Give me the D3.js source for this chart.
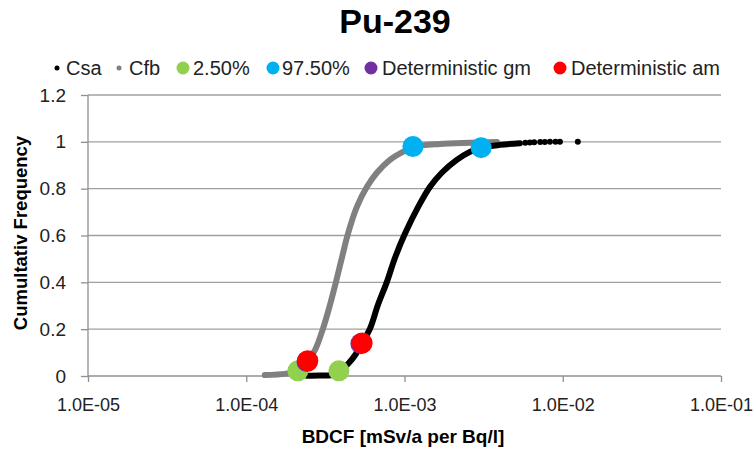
<!DOCTYPE html>
<html>
<head>
<meta charset="utf-8">
<script src="https://cdn.jsdelivr.net/npm/d3@7"></script>
<style>
  body { margin: 0; background: #fff; }
  svg { font-family: "Liberation Sans", Arial, sans-serif; }
</style>
</head>
<body>
<div id="chart"></div>
<script>
// Cfb (grey) cumulative curve
let cfbX = [1.31e-4, 1.76e-4, 2.03e-4, 2.25e-4, 2.45e-4, 2.72e-4, 3.05e-4, 3.38e-4, 3.69e-4, 4.02e-4, 4.39e-4, 5.00e-4, 5.79e-4, 6.69e-4, 8.09e-4, 9.77e-4, 1.16e-3, 1.67e-3, 2.59e-3, 3.84e-3]
let cfbY = [0.004, 0.009, 0.017, 0.034, 0.064, 0.111, 0.201, 0.303, 0.402, 0.504, 0.607, 0.722, 0.808, 0.868, 0.923, 0.957, 0.979, 0.991, 0.996, 0.999]

// Csa (black) cumulative curve
let csaX = [2.42e-4, 2.92e-4, 3.48e-4, 3.85e-4, 4.39e-4, 4.93e-4, 5.38e-4, 6.04e-4, 6.79e-4, 7.74e-4, 8.70e-4, 1.006e-3, 1.22e-3, 1.45e-3, 1.72e-3, 2.14e-3, 2.59e-3, 2.99e-3, 4.01e-3, 5.36e-3]
let csaY = [0.001, 0.002, 0.004, 0.017, 0.051, 0.094, 0.141, 0.201, 0.303, 0.402, 0.504, 0.607, 0.722, 0.808, 0.868, 0.923, 0.957, 0.974, 0.987, 0.994]
// Csa sparse upper tail
let csaTailX = [5.8e-3, 6.2e-3, 6.6e-3, 7.2e-3, 7.7e-3, 8.3e-3, 9.0e-3, 9.6e-3, 1.245e-2]
let csaTailY = [0.996, 0.997, 0.998, 0.999, 0.999, 1.0, 1.0, 1.0, 1.0]

// percentile and deterministic markers: [Cfb, Csa]
let p025X = [2.12e-4, 3.85e-4]
let p025Y = [0.022, 0.022]
let p975X = [1.13e-3, 3.05e-3]
let p975Y = [0.98, 0.975]
let gmX = [2.42e-4, 5.30e-4]
let gmY = [0.062, 0.138]
let amX = [2.45e-4, 5.40e-4]
let amY = [0.065, 0.141]

let yTicks = [0, 0.2, 0.4, 0.6, 0.8, 1, 1.2]
let yTickLabels = ["0", "0.2", "0.4", "0.6", "0.8", "1", "1.2"]
let xTicks = [1e-5, 1e-4, 1e-3, 1e-2, 1e-1]
let xTickLabels = ["1.0E-05", "1.0E-04", "1.0E-03", "1.0E-02", "1.0E-01"]

let legendNames = ["Csa", "Cfb", "2.50%", "97.50%", "Deterministic gm", "Deterministic am"]
let legendColors = ["#000000", "#808080", "#92D050", "#00B0F0", "#7030A0", "#FF0000"]

let width = 756, height = 454
let plot = { left: 88, right: 721, top: 95, bottom: 376 }

let svg = d3.select("#chart").append("svg")
    .attr("width", width)
    .attr("height", height)

let xScale = d3.scaleLog().domain([1e-5, 1e-1]).range([plot.left, plot.right])
let yScale = d3.scaleLinear().domain([0, 1.2]).range([plot.bottom, plot.top])

// gridlines
svg.append("g")
    .selectAll("line")
    .data(yTicks.slice(1))
    .enter()
    .append("line")
    .attr("x1", plot.left)
    .attr("x2", plot.right)
    .attr("y1", d => yScale(d))
    .attr("y2", d => yScale(d))
    .style("stroke", "#a0a0a0")
    .style("stroke-width", 1.3)

// y axis
let yAxis = svg.append("g")
    .attr("transform", "translate(" + plot.left + ",0)")
    .call(d3.axisLeft(yScale).tickValues(yTicks).tickSize(7).tickPadding(15)
        .tickFormat((d, i) => yTickLabels[i]))
yAxis.selectAll("path, line").style("stroke", "#909090").style("stroke-width", 1.3)
yAxis.select(".domain").attr("d", "M0," + plot.bottom + "V" + plot.top)
yAxis.selectAll("text").style("font-size", "19px").style("fill", "#222")

// x axis
let xAxis = svg.append("g")
    .attr("transform", "translate(0," + plot.bottom + ")")
    .call(d3.axisBottom(xScale).tickValues(xTicks).tickSize(6).tickPadding(16)
        .tickFormat((d, i) => xTickLabels[i]))
xAxis.selectAll("path, line").style("stroke", "#909090").style("stroke-width", 1.3)
xAxis.select(".domain").attr("d", "M" + plot.left + ",0H" + plot.right)
xAxis.selectAll("text").style("font-size", "18px").style("fill", "#222")

// curves
let line = d3.line()
    .x(d => xScale(d[0]))
    .y(d => yScale(d[1]))
    .curve(d3.curveCatmullRom.alpha(0.5))

svg.append("path")
    .datum(cfbX.map((d, i) => [d, cfbY[i]]))
    .attr("d", line)
    .style("fill", "none")
    .style("stroke", "#808080")
    .style("stroke-width", 6)
    .style("stroke-linecap", "round")

svg.append("path")
    .datum(csaX.map((d, i) => [d, csaY[i]]))
    .attr("d", line)
    .style("fill", "none")
    .style("stroke", "#000")
    .style("stroke-width", 6)
    .style("stroke-linecap", "round")

svg.append("g")
    .selectAll("circle")
    .data(csaTailX)
    .enter()
    .append("circle")
    .attr("cx", d => xScale(d))
    .attr("cy", (d, i) => yScale(csaTailY[i]))
    .attr("r", 3)
    .style("fill", "#000")

// markers
let markerSets = [[p025X, p025Y, legendColors[2]], [p975X, p975Y, legendColors[3]],
                  [gmX, gmY, legendColors[4]], [amX, amY, legendColors[5]]]
markerSets.forEach(function (m) {
    svg.append("g")
        .selectAll("circle")
        .data(m[0])
        .enter()
        .append("circle")
        .attr("cx", d => xScale(d))
        .attr("cy", (d, i) => yScale(m[1][i]))
        .attr("r", 10.5)
        .style("fill", m[2])
})

// title
svg.append("text")
    .attr("x", 395)
    .attr("y", 33)
    .attr("text-anchor", "middle")
    .style("font-size", "34px")
    .style("font-weight", "bold")
    .text("Pu-239")

// legend
let legendDotX = [57, 119, 183, 273, 371, 560]
let legendTextX = [66, 129, 193, 282, 382, 571]
let legendR = [2.5, 2.5, 6.5, 6.5, 6.5, 6.5]
let legend = svg.append("g")
legendNames.forEach(function (name, i) {
    legend.append("circle")
        .attr("cx", legendDotX[i])
        .attr("cy", 68)
        .attr("r", legendR[i])
        .style("fill", legendColors[i])
    legend.append("text")
        .attr("x", legendTextX[i])
        .attr("y", 75)
        .style("font-size", "20px")
        .style("fill", "#222")
        .text(name)
})

// axis titles
svg.append("text")
    .attr("x", 403)
    .attr("y", 443)
    .attr("text-anchor", "middle")
    .style("font-size", "19px")
    .style("font-weight", "bold")
    .text("BDCF [mSv/a per Bq/l]")

svg.append("text")
    .attr("transform", "translate(27,233) rotate(-90)")
    .attr("text-anchor", "middle")
    .style("font-size", "18.5px")
    .style("font-weight", "bold")
    .text("Cumultativ Frequency")
</script>
</body>
</html>
